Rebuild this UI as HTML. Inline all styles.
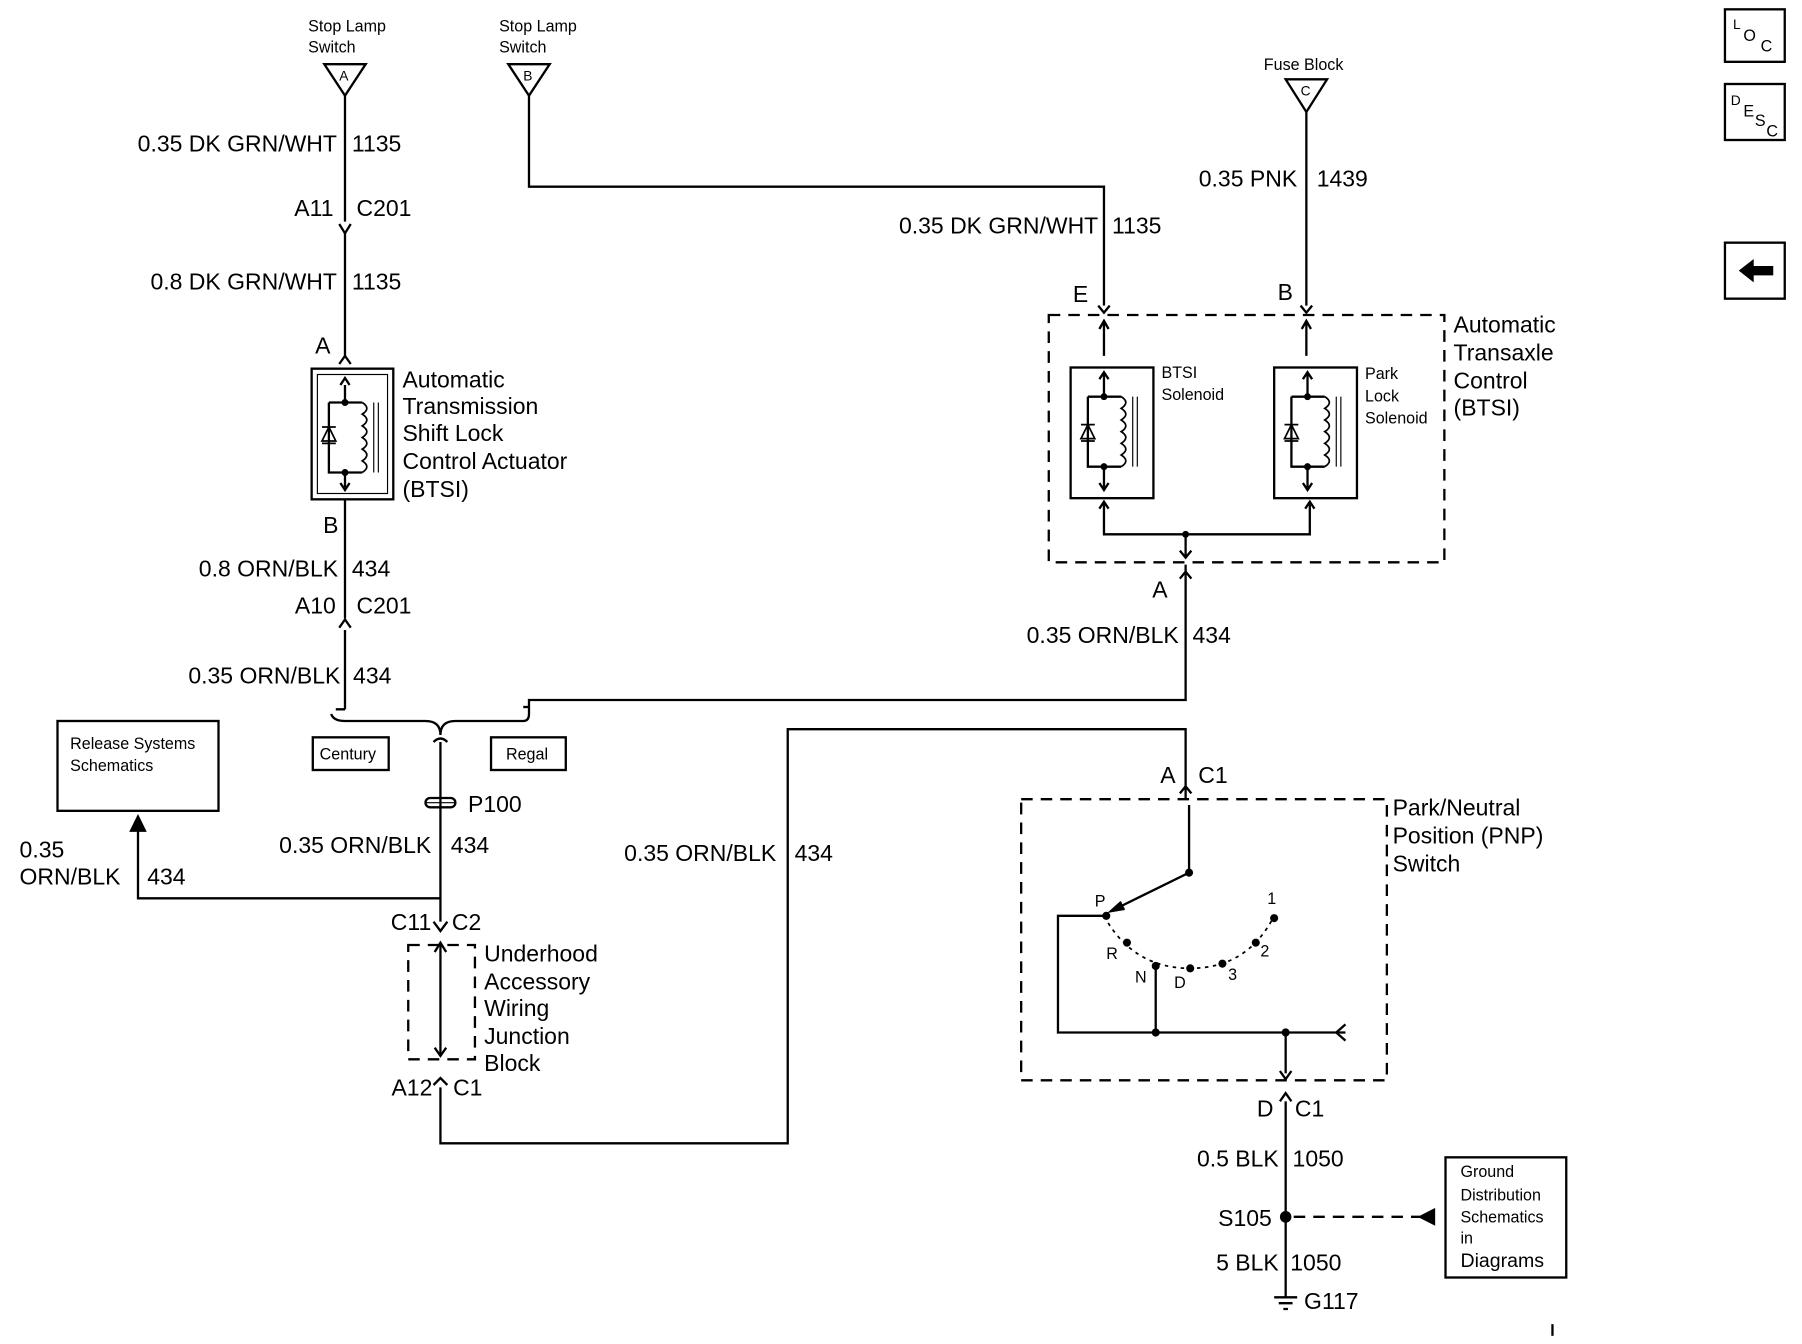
<!DOCTYPE html>
<html><head><meta charset="utf-8"><style>
html,body{margin:0;padding:0;background:#fff;}
svg{display:block;}
text{font-family:"Liberation Sans",sans-serif;fill:#000;}
.l{font-size:20px;}
.s{font-size:14px;}
</style></head><body>
<svg width="1802" height="1344" viewBox="0 0 1567 1152" preserveAspectRatio="none" xmlns="http://www.w3.org/2000/svg">
<g fill="none" stroke="#000" stroke-width="2">
<path d="M282 55 L318 55 L300 82 Z"/>
<path d="M300 82 V190 M300 200 V305"/>
<path d="M295 192 L300 200 L305 192"/>
<path d="M295 312 L300 305 L305 312"/>
<rect x="271" y="316" width="71" height="112"/>
<rect x="276" y="321" width="61" height="102" stroke-width="1"/>
<path d="M300 330 V345 M286 345 H315 M286 345 V405 H315 M300 405 V418"/>
<path d="M280 366 H292 M280 380 H292 M286 366 L280 378 H292 Z" stroke-width="1.5"/>
<path d="M315 345 q8 5 0 10 q8 5 0 10 q8 5 0 10 q8 5 0 10 q8 5 0 10 q8 5 0 10 V405" stroke-width="1.5"/>
<path d="M325 345 V405 M329 345 V405" stroke-width="1"/>
<path d="M296 330 L300 324 L304 330"/>
<path d="M296 414 L300 420 L304 414"/>
<path d="M300 428 V530 M300 540 V600"/>
<path d="M295 538 L300 531 L305 538"/>
<path d="M300 600 V608 M292 608 H300"/>
<path d="M288 612 Q290 618 300 618 H370 Q383 618 383 630 Q383 618 396 618 H455 Q460 618 460 612"/>
<path d="M460 612 V600 H1031 V484"/>
<path d="M455 606 H460"/>
<rect x="272" y="632" width="66" height="28"/>
<rect x="427" y="632" width="65" height="28"/>
<path d="M377 636 Q383 630 389 636"/>
<path d="M383 636 V790"/>
<rect x="370" y="684" width="26" height="8" rx="4"/>
<path d="M370 688 H396" stroke-width="1"/>
<path d="M383 770 H120 V708"/>
<path d="M114 712 L120 700 L126 712 Z" fill="#000"/>
<rect x="50" y="618" width="140" height="77"/>
<path d="M377 790 L383 798 L389 790"/>
<rect x="355" y="810" width="58" height="98" stroke-dasharray="10,7"/>
<path d="M383 808 V905"/>
<path d="M378 816 L383 808 L388 816 M378 898 L383 905 L388 898"/>
<path d="M377 930 L383 924 L389 930"/>
<path d="M383 932 V980 H685 V625 H1031 V685"/>
<path d="M1026 680 L1031 674 L1036 680"/>
<path d="M442 55 L478 55 L460 82 Z"/>
<path d="M460 82 V160 H960 V262"/>
<path d="M955 262 L960 268 L965 262"/>
<path d="M1118 68 L1154 68 L1136 96 Z"/>
<path d="M1136 96 V262"/>
<path d="M1131 262 L1136 268 L1141 262"/>
<rect x="912" y="270" width="344" height="212" stroke-dasharray="10,7"/>
<path d="M956 282 L960 275 L964 282 M960 275 V305"/>
<path d="M1132 282 L1136 275 L1140 282 M1136 275 V305"/>
<rect x="931" y="315" width="72" height="112"/>
<rect x="1108" y="315" width="72" height="112"/>
<path d="M956 325 L960 319 L964 325 M960 319 V340 M946 340 H975 M946 340 V400 H975 M960 400 V418 M956 414 L960 420 L964 414"/>
<path d="M975 340 q8 5 0 10 q8 5 0 10 q8 5 0 10 q8 5 0 10 q8 5 0 10 q8 5 0 10 V400" stroke-width="1.5"/>
<path d="M985 340 V400 M989 340 V400" stroke-width="1"/>
<path d="M940 364 H952 M940 378 H952 M946 364 L940 376 H952 Z" stroke-width="1.5"/>
<path d="M1133 325 L1137 319 L1141 325 M1137 319 V340 M1123 340 H1152 M1123 340 V400 H1152 M1137 400 V418 M1133 414 L1137 420 L1141 414"/>
<path d="M1152 340 q8 5 0 10 q8 5 0 10 q8 5 0 10 q8 5 0 10 q8 5 0 10 q8 5 0 10 V400" stroke-width="1.5"/>
<path d="M1162 340 V400 M1166 340 V400" stroke-width="1"/>
<path d="M1117 364 H1129 M1117 378 H1129 M1123 364 L1117 376 H1129 Z" stroke-width="1.5"/>
<path d="M960 432 V458 H1139 V432 M956 436 L960 430 L964 436 M1135 436 L1139 430 L1143 436"/>
<path d="M1026 472 L1031 478 L1036 472 M1031 458 V478 M1026 496 L1031 490 L1036 496"/>
<rect x="888" y="685" width="318" height="241" stroke-dasharray="10,7"/>
<path d="M1034 690 V748 L968 780"/>
<path d="M975 773 L966 781 L978 779" fill="#000"/>
<path d="M960 785 H920 V885 H1170 M1005 830 V885 M1118 885 V920"/>
<path d="M1170 878 L1162 885 L1170 892"/>
<path d="M1113 918 L1118 925 L1123 918 M1113 944 L1118 937 L1123 944"/>
<path d="M960 785 Q985 830 1035 830 Q1085 830 1108 785" stroke-dasharray="3,4" stroke-width="1.5"/>
<path d="M1118 944 V1112"/>
<path d="M1125 1043 H1235" stroke-dasharray="10,7"/>
<path d="M1247 1037 L1235 1043 L1247 1049 Z" fill="#000"/>
<rect x="1257" y="992" width="105" height="103"/>
<path d="M1108 1112 H1128 M1112 1117 H1124 M1116 1122 H1120"/>
<rect x="1500" y="8" width="52" height="45"/>
<rect x="1500" y="72" width="52" height="48"/>
<rect x="1500" y="208" width="52" height="48"/>
<path d="M1350 1135 V1145"/>
</g>
<g fill="#000">
<circle cx="300" cy="345" r="3"/><circle cx="300" cy="405" r="3"/>
<circle cx="960" cy="340" r="3"/><circle cx="960" cy="400" r="3"/>
<circle cx="1137" cy="340" r="3"/><circle cx="1137" cy="400" r="3"/>
<circle cx="1031" cy="458" r="3"/>
<circle cx="1034" cy="748" r="3.5"/><circle cx="962" cy="785" r="3.5"/>
<circle cx="980" cy="808" r="3.5"/><circle cx="1005" cy="828" r="3.5"/><circle cx="1035" cy="830" r="3.5"/>
<circle cx="1063" cy="826" r="3.5"/><circle cx="1092" cy="808" r="3.5"/><circle cx="1108" cy="787" r="3.5"/>
<circle cx="1005" cy="885" r="3.5"/><circle cx="1118" cy="885" r="3.5"/>
<circle cx="1118" cy="1043" r="5"/>
<path d="M1512 232 L1525 222 V228 H1542 V236 H1525 V242 Z"/>
</g>
<g class="s">
<text x="268" y="27">Stop Lamp</text><text x="268" y="45">Switch</text>
<text x="434" y="27">Stop Lamp</text><text x="434" y="45">Switch</text>
<text x="1099" y="60">Fuse Block</text>
<text x="295" y="69" font-size="12">A</text><text x="455" y="69" font-size="12">B</text><text x="1131" y="82" font-size="12">C</text>
<text x="278" y="651">Century</text><text x="440" y="651">Regal</text>
<text x="61" y="642">Release Systems</text><text x="61" y="661">Schematics</text>
<text x="1010" y="324">BTSI</text><text x="1010" y="343">Solenoid</text>
<text x="1187" y="325">Park</text><text x="1187" y="344">Lock</text><text x="1187" y="363">Solenoid</text>
<text x="1270" y="1009">Ground</text><text x="1270" y="1029">Distribution</text><text x="1270" y="1048">Schematics</text><text x="1270" y="1066">in</text>
<text x="1270" y="1086" font-size="17">Diagrams</text>
<text x="952" y="777">P</text><text x="1102" y="775">1</text><text x="962" y="822">R</text><text x="1096" y="820">2</text>
<text x="987" y="842">N</text><text x="1021" y="847">D</text><text x="1068" y="840">3</text>
<text x="1507" y="25" font-size="12">L</text><text x="1516" y="35" font-size="14">O</text><text x="1531" y="44" font-size="14">C</text>
<text x="1505" y="90" font-size="12">D</text><text x="1516" y="100" font-size="14">E</text><text x="1526" y="108" font-size="14">S</text><text x="1536" y="117" font-size="14">C</text>
</g>
<g class="l">
<text x="293" y="130" text-anchor="end">0.35 DK GRN/WHT</text><text x="306" y="130">1135</text>
<text x="290" y="185" text-anchor="end">A11</text><text x="310" y="185">C201</text>
<text x="293" y="248" text-anchor="end">0.8 DK GRN/WHT</text><text x="306" y="248">1135</text>
<text x="274" y="303">A</text>
<text x="350" y="332">Automatic</text><text x="350" y="355">Transmission</text><text x="350" y="378">Shift Lock</text><text x="350" y="402">Control Actuator</text><text x="350" y="426">(BTSI)</text>
<text x="281" y="457">B</text>
<text x="294" y="494" text-anchor="end">0.8 ORN/BLK</text><text x="306" y="494">434</text>
<text x="292" y="526" text-anchor="end">A10</text><text x="310" y="526">C201</text>
<text x="296" y="586" text-anchor="end">0.35 ORN/BLK</text><text x="307" y="586">434</text>
<text x="407" y="696">P100</text>
<text x="375" y="731" text-anchor="end">0.35 ORN/BLK</text><text x="392" y="731">434</text>
<text x="17" y="735">0.35</text><text x="17" y="758">ORN/BLK</text><text x="128" y="758">434</text>
<text x="375" y="797" text-anchor="end">C11</text><text x="393" y="797">C2</text>
<text x="421" y="824">Underhood</text><text x="421" y="848">Accessory</text><text x="421" y="871">Wiring</text><text x="421" y="895">Junction</text><text x="421" y="918">Block</text>
<text x="376" y="939" text-anchor="end">A12</text><text x="394" y="939">C1</text>
<text x="675" y="738" text-anchor="end">0.35 ORN/BLK</text><text x="691" y="738">434</text>
<text x="955" y="200" text-anchor="end">0.35 DK GRN/WHT</text><text x="967" y="200">1135</text>
<text x="1128" y="160" text-anchor="end">0.35 PNK</text><text x="1145" y="160">1439</text>
<text x="933" y="259">E</text><text x="1111" y="257">B</text>
<text x="1264" y="285">Automatic</text><text x="1264" y="309">Transaxle</text><text x="1264" y="333">Control</text><text x="1264" y="356">(BTSI)</text>
<text x="1002" y="512">A</text>
<text x="1025" y="551" text-anchor="end">0.35 ORN/BLK</text><text x="1037" y="551">434</text>
<text x="1009" y="671">A</text><text x="1042" y="671">C1</text>
<text x="1211" y="699">Park/Neutral</text><text x="1211" y="723">Position (PNP)</text><text x="1211" y="747">Switch</text>
<text x="1093" y="957">D</text><text x="1126" y="957">C1</text>
<text x="1112" y="1000" text-anchor="end">0.5 BLK</text><text x="1124" y="1000">1050</text>
<text x="1106" y="1051" text-anchor="end">S105</text>
<text x="1112" y="1089" text-anchor="end">5 BLK</text><text x="1122" y="1089">1050</text>
<text x="1134" y="1122">G117</text>
</g>
</svg>
</body></html>
